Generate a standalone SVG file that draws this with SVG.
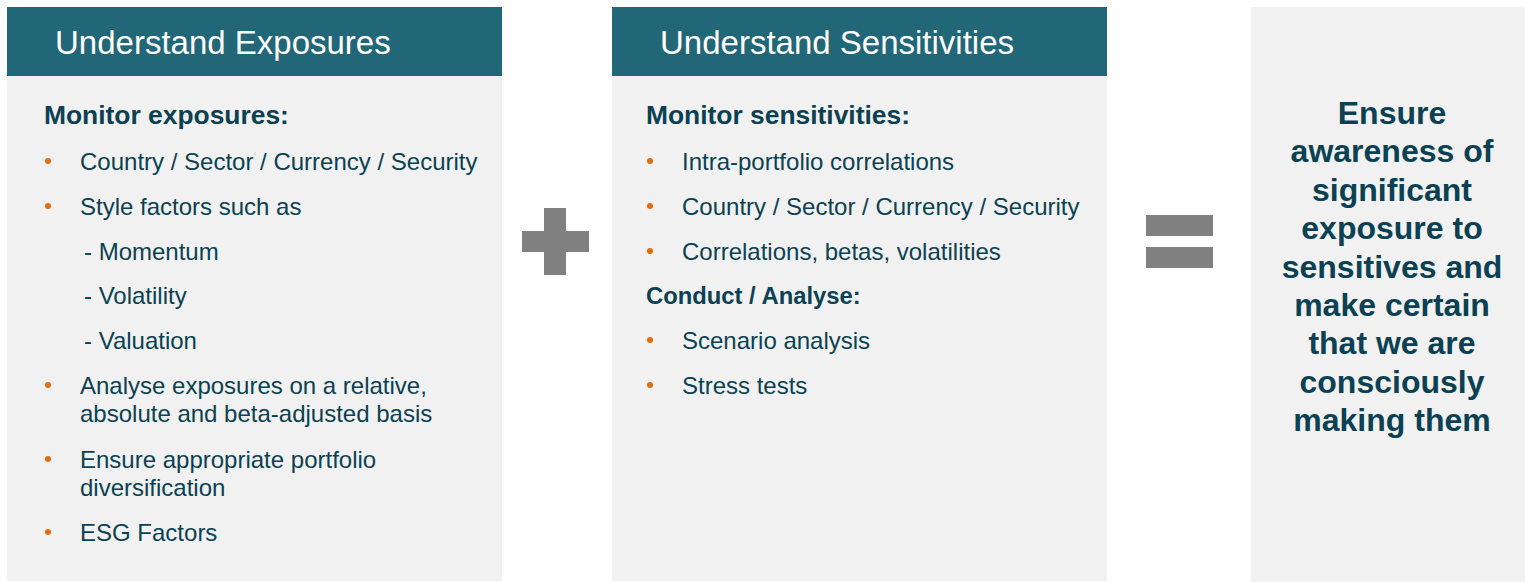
<svg xmlns="http://www.w3.org/2000/svg" width="1525" height="582" viewBox="0 0 1525 582">
<style>
.hdr{fill:#216778}
.body{fill:#f1f1f1}
.title{font-family:"Liberation Sans",Arial,sans-serif;font-size:33px;fill:#ffffff}
.head{font-family:"Liberation Sans",Arial,sans-serif;font-size:26.4px;font-weight:bold;fill:#0b4153}
.sub{font-family:"Liberation Sans",Arial,sans-serif;font-size:23.8px;font-weight:bold;fill:#0b4153}
.item{font-family:"Liberation Sans",Arial,sans-serif;font-size:24px;fill:#0b4153}
.dot{fill:#e46c0a}
.op{fill:#808080}
.big{font-family:"Liberation Sans",Arial,sans-serif;font-size:32px;font-weight:bold;fill:#0b4153;text-anchor:middle}
</style>
<rect width="1525" height="582" fill="#ffffff"/>
<g id="exposures">
<rect class="body" x="7" y="76" width="495" height="505"/>
<rect class="hdr" x="7" y="7" width="495" height="69"/>
<text class="title" x="55" y="54">Understand Exposures</text>
<text class="head" x="44" y="124">Monitor exposures:</text>
<circle class="dot" cx="48" cy="161" r="3"/>
<text class="item" x="80" y="170">Country / Sector / Currency / Security</text>
<circle class="dot" cx="48" cy="206" r="3"/>
<text class="item" x="80" y="215">Style factors such as</text>
<text class="item" x="84" y="260">- Momentum</text>
<text class="item" x="84" y="304">- Volatility</text>
<text class="item" x="84" y="349">- Valuation</text>
<circle class="dot" cx="48" cy="385" r="3"/>
<text class="item" x="80" y="394">Analyse exposures on a relative,</text>
<text class="item" x="80" y="422">absolute and beta-adjusted basis</text>
<circle class="dot" cx="48" cy="459" r="3"/>
<text class="item" x="80" y="468">Ensure appropriate portfolio</text>
<text class="item" x="80" y="496">diversification</text>
<circle class="dot" cx="48" cy="532" r="3"/>
<text class="item" x="80" y="541">ESG Factors</text>
</g>
<g id="plus">
<rect class="op" x="522" y="231" width="67" height="21"/>
<rect class="op" x="544" y="208" width="22" height="67"/>
</g>
<g id="sensitivities">
<rect class="body" x="612" y="76" width="495" height="505"/>
<rect class="hdr" x="612" y="7" width="495" height="69"/>
<text class="title" x="660" y="54">Understand Sensitivities</text>
<text class="head" x="646" y="124">Monitor sensitivities:</text>
<circle class="dot" cx="650" cy="161" r="3"/>
<text class="item" x="682" y="170">Intra-portfolio correlations</text>
<circle class="dot" cx="650" cy="206" r="3"/>
<text class="item" x="682" y="215">Country / Sector / Currency / Security</text>
<circle class="dot" cx="650" cy="251" r="3"/>
<text class="item" x="682" y="260">Correlations, betas, volatilities</text>
<text class="sub" x="646" y="304">Conduct / Analyse:</text>
<circle class="dot" cx="650" cy="340" r="3"/>
<text class="item" x="682" y="349">Scenario analysis</text>
<circle class="dot" cx="650" cy="385" r="3"/>
<text class="item" x="682" y="394">Stress tests</text>
</g>
<g id="equals">
<rect class="op" x="1146" y="215" width="67" height="21"/>
<rect class="op" x="1146" y="247" width="67" height="21"/>
</g>
<g id="result">
<rect class="body" x="1251" y="7" width="274" height="575"/>
<text class="big" x="1392" y="124">Ensure</text>
<text class="big" x="1392" y="162">awareness of</text>
<text class="big" x="1392" y="201">significant</text>
<text class="big" x="1392" y="239">exposure to</text>
<text class="big" x="1392" y="278">sensitives and</text>
<text class="big" x="1392" y="316">make certain</text>
<text class="big" x="1392" y="354">that we are</text>
<text class="big" x="1392" y="393">consciously</text>
<text class="big" x="1392" y="431">making them</text>
</g>
<g id="connectors"></g>
</svg>
